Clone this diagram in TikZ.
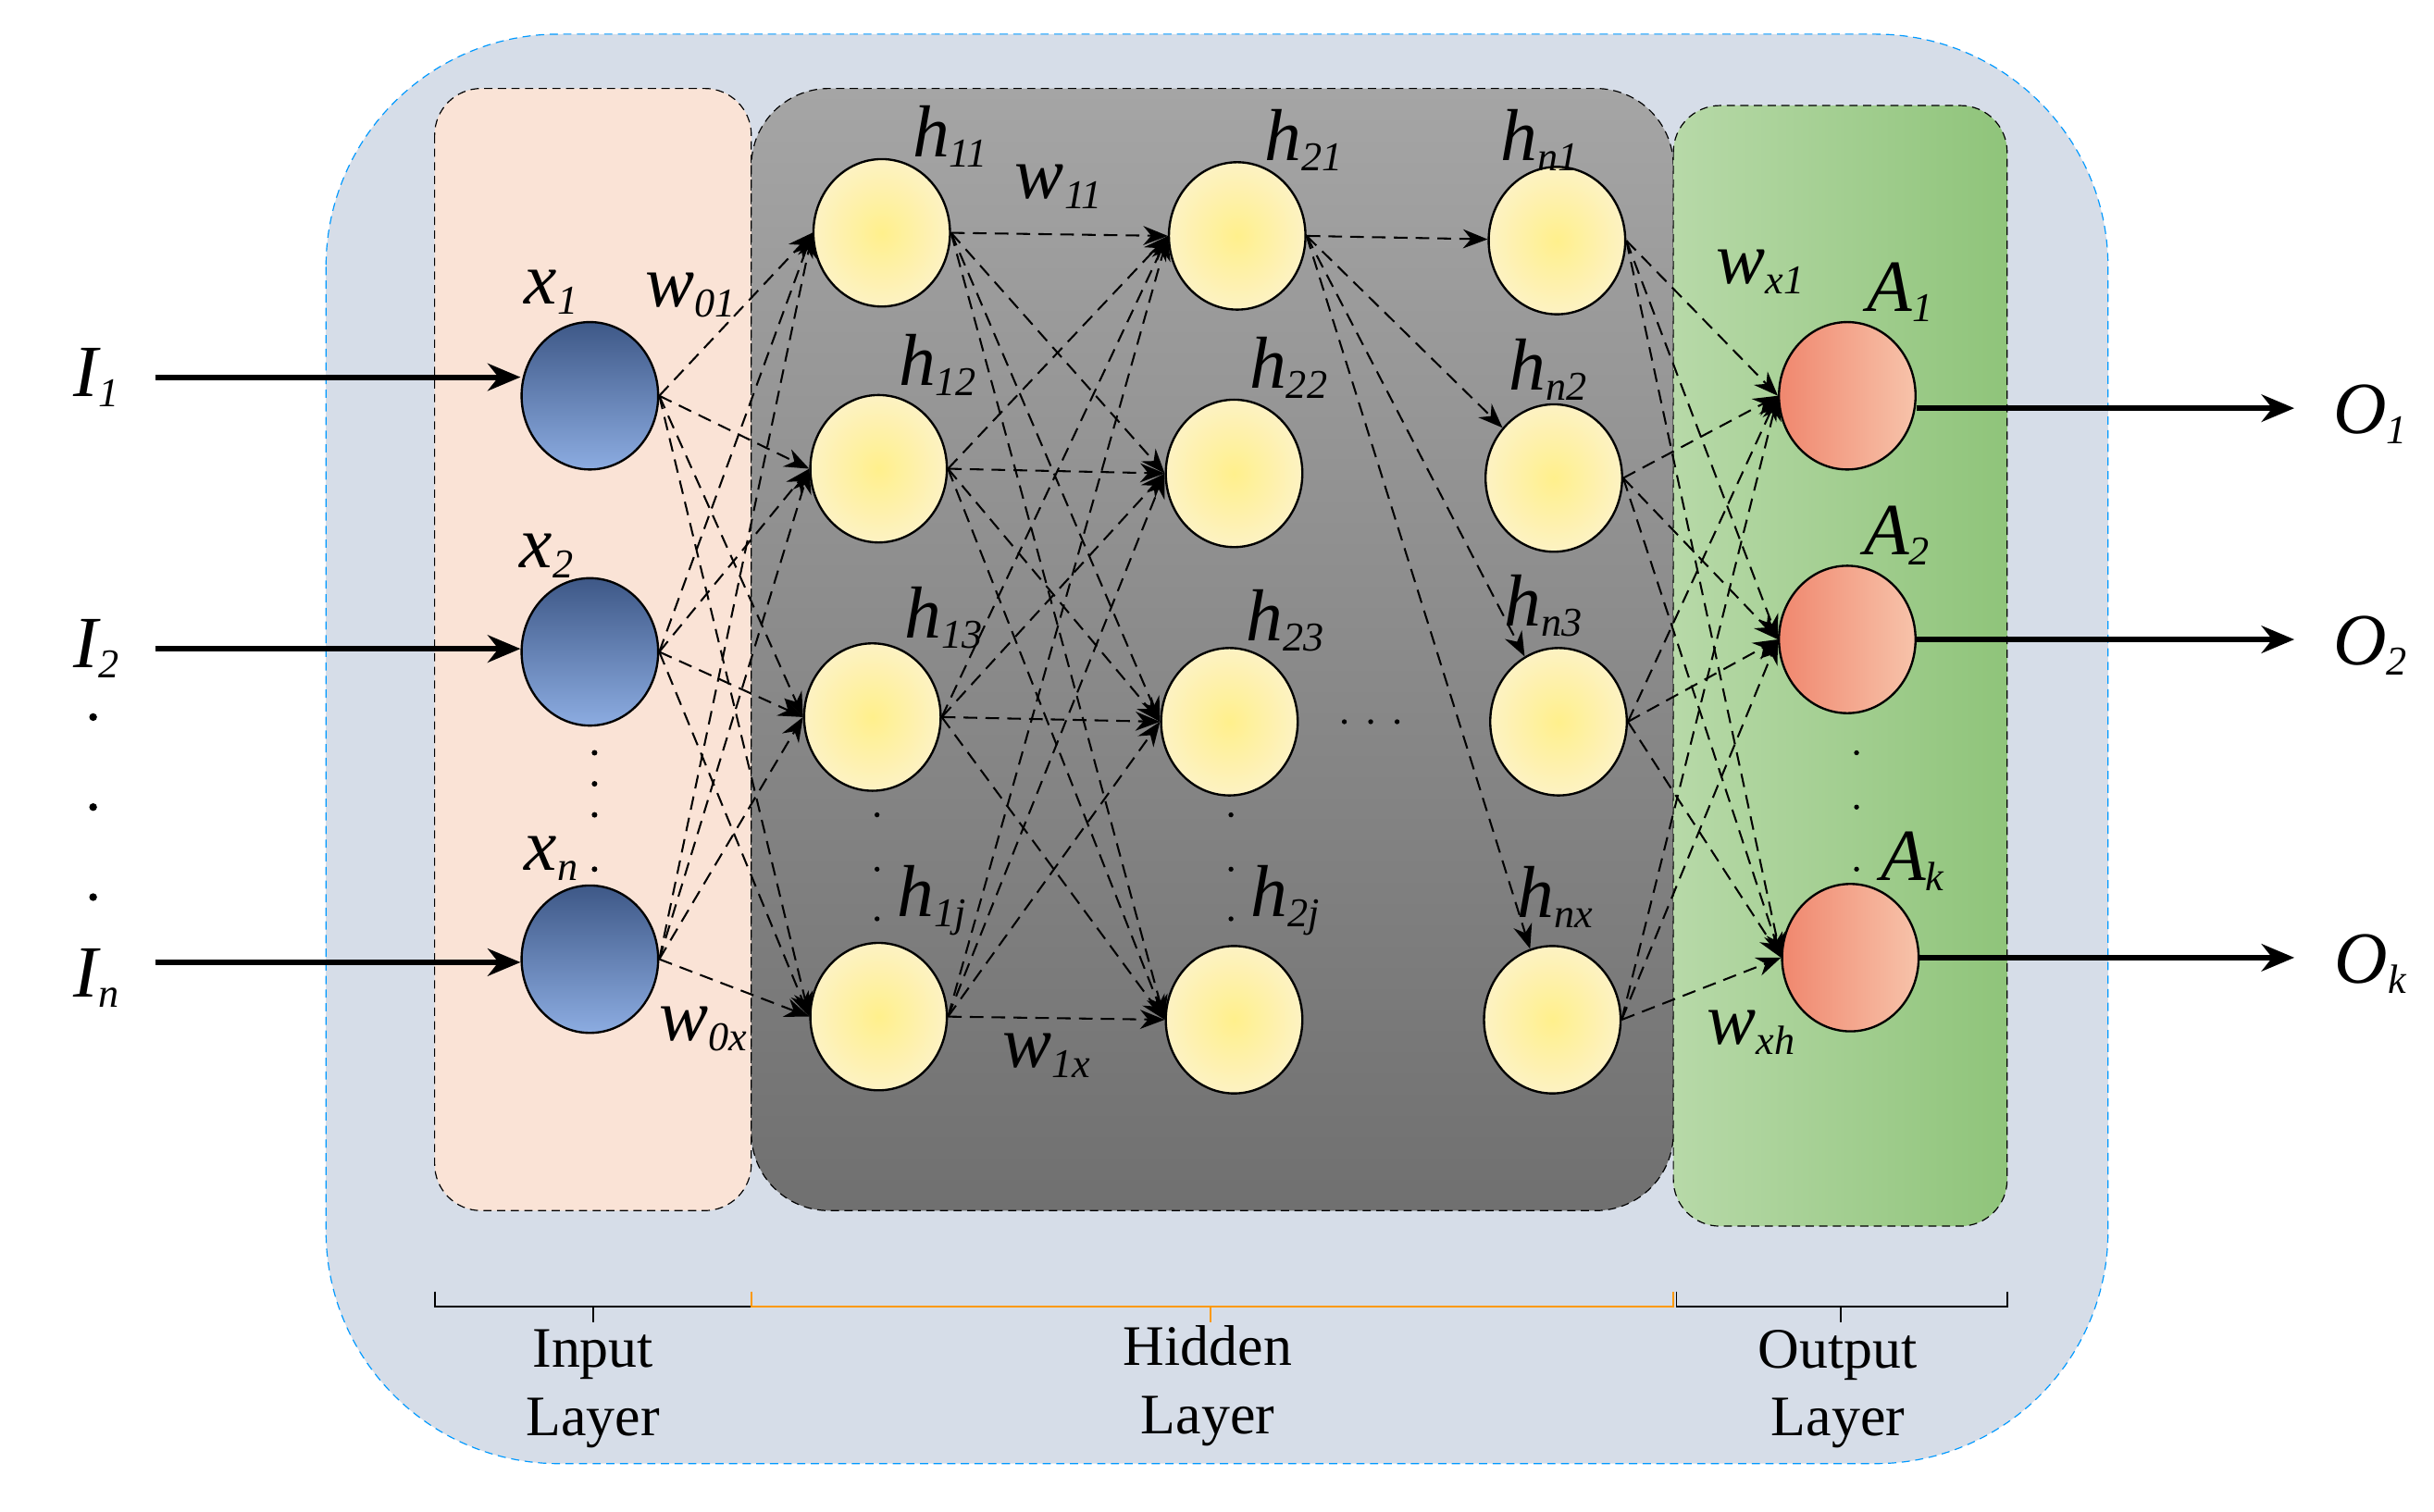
\documentclass[tikz,border=0pt]{standalone}
\usepackage{fontspec}
\setmainfont{Liberation Serif}
\usetikzlibrary{shapes.geometric,arrows.meta,decorations.pathreplacing}
\newcommand{\lb}[2]{\itshape #1\raisebox{-0.3ex}{\fontsize{15}{15}\selectfont #2}}
\definecolor{inTop}{RGB}{62,88,135}
\definecolor{inBot}{RGB}{140,172,225}
\definecolor{yIn}{RGB}{255,240,140}
\definecolor{yOut}{RGB}{253,242,195}
\begin{document}
\begin{tikzpicture}[x=0.02cm,y=-0.02cm,
 neu/.style={ellipse,draw=black,line width=0.8pt,minimum width=1.76cm,minimum height=1.9cm,inner sep=0},
 inp/.style={neu,top color=inTop,bottom color=inBot,shading angle=0},
 hid/.style={neu,inner color=yIn,outer color=yOut},
 outn/.style={neu,left color={rgb,255:red,240;green,135;blue,110},right color={rgb,255:red,247;green,195;blue,170}},
 lab/.style={font=\fontsize{27}{27}\selectfont},
 dl/.style={dash pattern=on 5pt off 3pt,-{Stealth[length=9pt,width=7pt]},line width=0.7pt},
 th/.style={-{Stealth[length=12pt,width=10pt]},line width=2pt}]
\useasboundingbox (0,0) rectangle (1568,974);
\draw[blue!40!cyan,densely dashed,fill={rgb,255:red,214;green,221;blue,232},rounded corners=3cm] (210,22) rectangle (1358,943);
\draw[densely dashed,fill={rgb,255:red,250;green,227;blue,214},rounded corners=0.6cm] (280,57) rectangle (484,780);
\draw[densely dashed,top color={rgb,255:red,165;green,165;blue,165},bottom color={rgb,255:red,112;green,112;blue,112},rounded corners=1cm] (484,57) rectangle (1078,780);
\draw[densely dashed,left color={rgb,255:red,183;green,217;blue,168},right color={rgb,255:red,143;green,196;blue,122},rounded corners=0.6cm] (1078,68) rectangle (1293,790);
% nodes
\node[inp] (x1) at (380,255) {};
\node[inp] (x2) at (380,420) {};
\node[inp] (xn) at (380,618) {};
\node[hid] (a1) at (568,150) {};
\node[hid] (a2) at (566,302) {};
\node[hid] (a3) at (562,462) {};
\node[hid] (a4) at (566,655) {};
\node[hid] (b1) at (797,152) {};
\node[hid] (b2) at (795,305) {};
\node[hid] (b3) at (792,465) {};
\node[hid] (b4) at (795,657) {};
\node[hid] (c1) at (1003,155) {};
\node[hid] (c2) at (1001,308) {};
\node[hid] (c3) at (1004,465) {};
\node[hid] (c4) at (1000,657) {};
\node[outn] (o1) at (1190,255) {};
\node[outn] (o2) at (1190,412) {};
\node[outn] (o3) at (1192,617) {};
% connections
\foreach \s in {x1,x2,xn}{\foreach \t in {a1,a2,a3,a4}{\draw[dl] (\s.east) -- (\t.west);}}
\foreach \s in {a1,a2,a3,a4}{\foreach \t in {b1,b2,b3,b4}{\draw[dl] (\s.east) -- (\t.west);}}
\foreach \t in {c1,c2,c3,c4}{\draw[dl] (b1.east) -- (\t);}
\foreach \s in {c1,c2,c3,c4}{\foreach \t in {o1,o2,o3}{\draw[dl] (\s.east) -- (\t.west);}}
% inputs / outputs
\coordinate (i1) at (100,243); \coordinate (i2) at (100,418); \coordinate (i3) at (100,620);
\draw[th] (i1) -- (x1.west|-i1); \draw[th] (i2) -- (x2.west|-i2); \draw[th] (i3) -- (xn.west|-i3);
\coordinate (e1) at (1478,263); \coordinate (e2) at (1478,412); \coordinate (e3) at (1478,617);
\draw[th] (o1.east|-e1) -- (e1); \draw[th] (o2) -- (e2); \draw[th] (o3) -- (e3);
\node[lab] (I1) at (62,243) {\lb{I}{1}};
\node[lab] (I2) at (62,418) {\lb{I}{2}};
\node[lab] (In) at (62,630) {\lb{I}{n}};
\node[lab] (O1) at (1527,267) {\lb{O}{1}};
\node[lab] (O2) at (1527,416) {\lb{O}{2}};
\node[lab] (Ok) at (1527,621) {\lb{O}{k}};
% labels
\node[lab] (lx1) at (355,188) {\lb{x}{1}};
\node[lab] (lx2) at (352,358) {\lb{x}{2}};
\node[lab] (lxn) at (355,553) {\lb{x}{n}};
\node[lab] (lw01) at (445,190) {\lb{w}{01}};
\node[lab] (lw0x) at (453,663) {\lb{w}{0x}};
\node[lab] (h11) at (612,88) {\lb{h}{11}};
\node[lab] (h12) at (604,235) {\lb{h}{12}};
\node[lab] (h13) at (608,398) {\lb{h}{13}};
\node[lab] (h1j) at (600,580) {\lb{h}{1j}};
\node[lab] (h21) at (840,90) {\lb{h}{21}};
\node[lab] (h22) at (830,237) {\lb{h}{22}};
\node[lab] (h23) at (828,400) {\lb{h}{23}};
\node[lab] (h2j) at (828,580) {\lb{h}{2j}};
\node[lab] (hn1) at (992,90) {\lb{h}{n1}};
\node[lab] (hn2) at (997,238) {\lb{h}{n2}};
\node[lab] (hn3) at (994,390) {\lb{h}{n3}};
\node[lab] (hnx) at (1002,578) {\lb{h}{nx}};
\node[lab] (w11) at (682,120) {\lb{w}{11}};
\node[lab] (w1x) at (674,680) {\lb{w}{1x}};
\node[lab] (wx1) at (1134,175) {\lb{w}{x1}};
\node[lab] (wxh) at (1128,665) {\lb{w}{xh}};
\node[lab] (A1) at (1224,188) {\lb{A}{1}};
\node[lab] (A2) at (1222,345) {\lb{A}{2}};
\node[lab] (Ak) at (1232,555) {\lb{A}{k}};
% dots
\foreach \y in {462,520,578}{\fill (60,\y) circle (2.5);}
\foreach \y in {485,505,525,560}{\fill (383,\y) circle (1.8);}
\foreach \y in {525,560,592}{\fill (565,\y) circle (1.6);}
\foreach \y in {525,560,592}{\fill (793,\y) circle (1.6);}
\foreach \y in {485,520,560}{\fill (1196,\y) circle (1.6);}
\foreach \x in {866,883,900}{\fill (\x,465) circle (1.6);}
% bottom braces
\draw[line width=0.6pt] (280,832) -- (280,842) -- (484,842) -- (484,832) (382,842) -- (382,852);
\draw[orange!80!yellow,line width=0.8pt] (484,832) -- (484,842) -- (1078,842) -- (1078,832) (780,842) -- (780,852);
\draw[line width=0.6pt] (1080,832) -- (1080,842) -- (1293,842) -- (1293,832) (1186,842) -- (1186,852);
\node[font=\fontsize{21}{25}\selectfont,align=center] (L1) at (382,895) {Input\\Layer};
\node[font=\fontsize{21}{25}\selectfont,align=center] (L2) at (778,893) {Hidden\\Layer};
\node[font=\fontsize{21}{25}\selectfont,align=center] (L3) at (1184,895) {Output\\Layer};
\end{tikzpicture}
\end{document}
